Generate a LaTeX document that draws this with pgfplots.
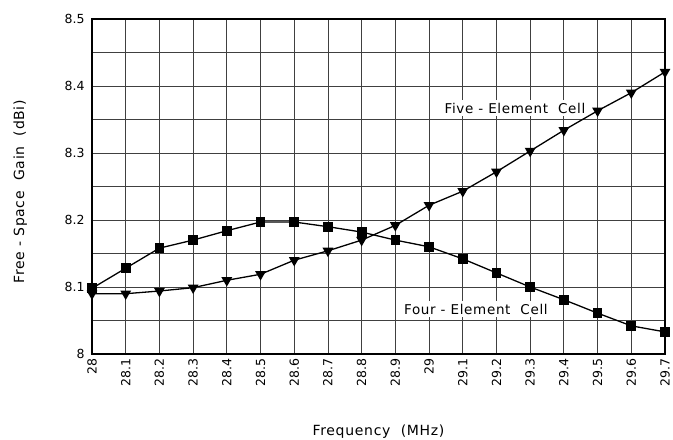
\documentclass[border=0pt]{standalone}
\usepackage{fontspec}
\setmainfont{DejaVu Sans}
\newfontfamily\lblfont{DejaVu Sans}[LetterSpace=5]
\usepackage{pgfplots}
\pgfplotsset{compat=1.18}
\begin{document}
\begin{tikzpicture}
\useasboundingbox (0,0) rectangle (673bp,440bp);
\begin{axis}[
  at={(92bp,86bp)}, anchor=south west,
  width=573bp, height=335bp, scale only axis,
  xmin=28, xmax=29.7, ymin=8, ymax=8.5,
  clip=false,
  axis line style={line width=1.3bp},
  xtick={28,28.1,28.2,28.3,28.4,28.5,28.6,28.7,28.8,28.9,29,29.1,29.2,29.3,29.4,29.5,29.6,29.7},
  xticklabels={28,28.1,28.2,28.3,28.4,28.5,28.6,28.7,28.8,28.9,29,29.1,29.2,29.3,29.4,29.5,29.6,29.7},
  ytick={8,8.1,8.2,8.3,8.4,8.5},
  yticklabels={8,8.1,8.2,8.3,8.4,8.5},
  minor ytick={8.05,8.15,8.25,8.35,8.45},
  major tick length=0pt, minor tick length=0pt,
  xmajorgrids, ymajorgrids, yminorgrids,
  major grid style={black!75, line width=0.8bp},
  minor grid style={black!75, line width=0.8bp},
  /pgf/number format/assume math mode=true,
  ticklabel style={font=\fontsize{12.5bp}{14bp}\selectfont},
  xticklabel style={rotate=90, anchor=east, inner sep=1bp, xshift=-3bp, yshift=0bp},
  yticklabel style={xshift=-4bp},
  label style={font=\lblfont\fontsize{14bp}{16bp}\selectfont},
  xlabel={Frequency\ \ (MHz)},
  ylabel={Free - Space\ \ Gain\ \ (dBi)},
  xlabel style={at={(axis description cs:0.5,-0.233)}, anchor=center},
  ylabel style={at={(axis description cs:-0.125,0.484)}, anchor=center, rotate=0},
]
\node[fill=white, inner xsep=6bp, inner ysep=3bp, font=\lblfont\fontsize{13.5bp}{15bp}\selectfont] at (axis cs:29.255,8.367) {Five - Element\ \ Cell};
\node[fill=white, inner xsep=6bp, inner ysep=3bp, font=\lblfont\fontsize{13.5bp}{15bp}\selectfont] at (axis cs:29.139,8.067) {Four - Element\ \ Cell};
\addplot[black, line width=1.3bp, mark=square*, mark size=4.2bp] coordinates {
(28,8.098) (28.1,8.128) (28.2,8.158) (28.3,8.170) (28.4,8.184) (28.5,8.197)
(28.6,8.197) (28.7,8.190) (28.8,8.182) (28.9,8.170) (29.0,8.160) (29.1,8.142)
(29.2,8.121) (29.3,8.100) (29.4,8.081) (29.5,8.061) (29.6,8.042) (29.7,8.033)};
\addplot[black, line width=1.3bp, mark=triangle*, mark size=5bp, mark options={rotate=180}] coordinates {
(28,8.090) (28.1,8.090) (28.2,8.094) (28.3,8.099) (28.4,8.110) (28.5,8.119)
(28.6,8.140) (28.7,8.154) (28.8,8.170) (28.9,8.192) (29.0,8.222) (29.1,8.243)
(29.2,8.272) (29.3,8.303) (29.4,8.334) (29.5,8.363) (29.6,8.390) (29.7,8.421)};
\end{axis}
\end{tikzpicture}
\end{document}
